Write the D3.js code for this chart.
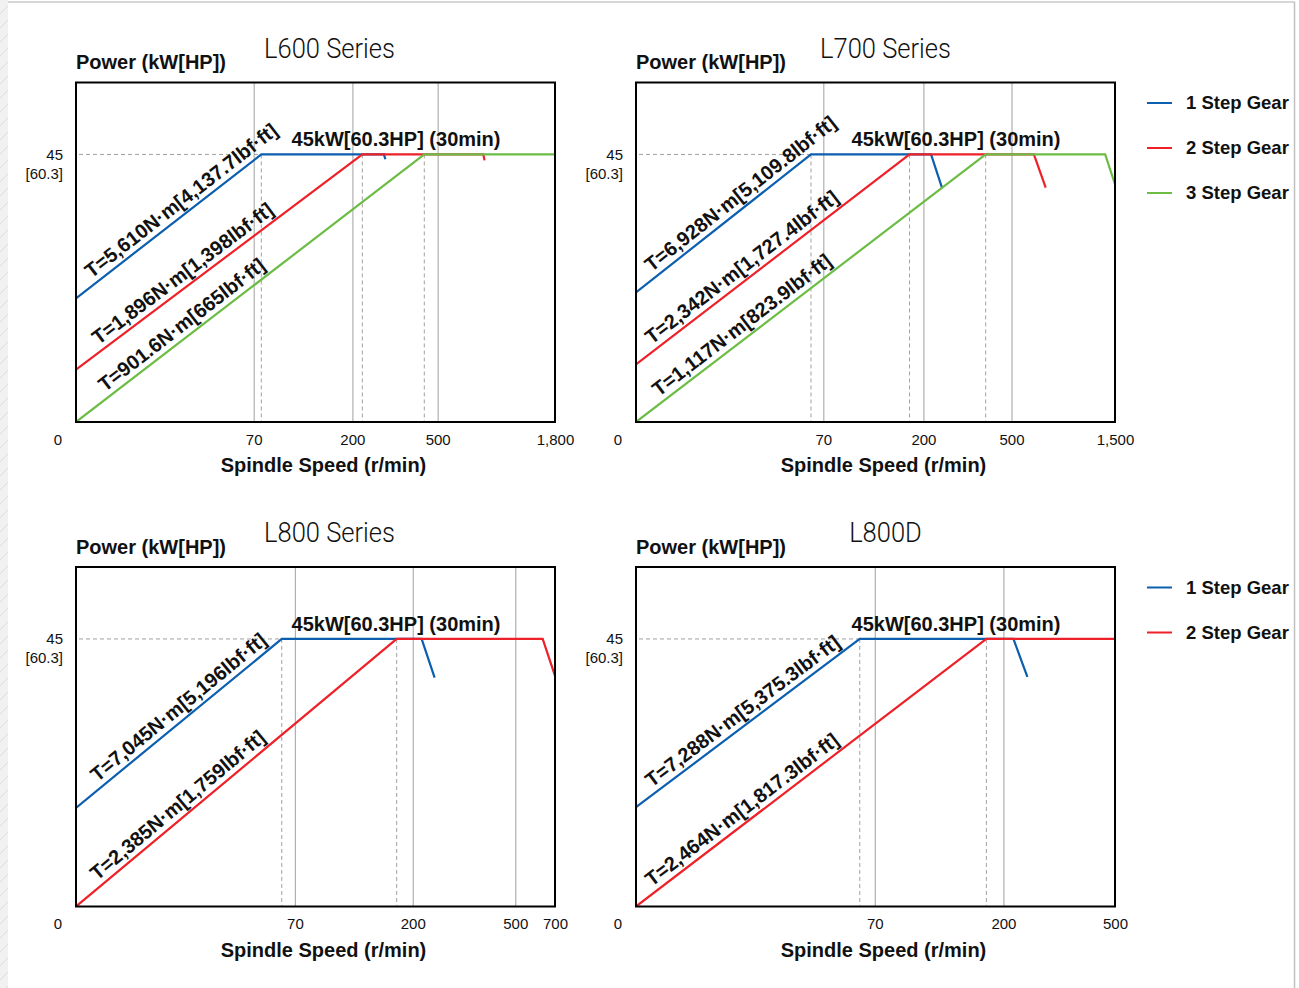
<!DOCTYPE html>
<html>
<head>
<meta charset="utf-8">
<script src="https://cdn.jsdelivr.net/npm/d3@7.9.0/dist/d3.min.js"></script>
<style>
  body { margin: 0; background: #fff; }
  svg { display: block; }
  text { font-family: 'Liberation Sans', Arial, sans-serif; fill: #111; }
  .bold { font-weight: bold; }
  .title { font-family: Roboto, 'DejaVu Sans', sans-serif; font-weight: 300; }
</style>
</head>
<body>
<div id="chart"></div>
<script>
// gears shared by every panel
const gearNames = ['1 Step Gear', '2 Step Gear', '3 Step Gear'];
const gearColors = ['#0b5fae', '#ee2128', '#6cbd45'];

// y axis (kW) with the HP value shown under it
const yTicks = [45];
const yTicksHp = ['[60.3]'];
const ratedLabel = '45kW[60.3HP] (30min)';

// L600 Series: [speed r/min, power kW]
const l600Ticks = [0, 70, 200, 500, 1800];
const l600Gear1 = [[0, 20.8], [80, 45], [311, 45], [316, 44.2]];
const l600Gear2 = [[0, 8.8], [235, 45], [1006, 45], [1020, 44]];
const l600Gear3 = [[0, 0], [453, 45], [1800, 45]];
const l600Torque = ['T=5,610N·m[4,137.7lbf·ft]', 'T=1,896N·m[1,398lbf·ft]', 'T=901.6N·m[665lbf·ft]'];

// L700 Series
const l700Ticks = [0, 70, 200, 500, 1500];
const l700Gear1 = [[0, 21.8], [65.4, 45], [226, 45], [264, 39.3]];
const l700Gear2 = [[0, 9.7], [182, 45], [716, 45], [830, 39.4]];
const l700Gear3 = [[0, 0], [412, 45], [1405, 45], [1500, 40]];
const l700Torque = ['T=6,928N·m[5,109.8lbf·ft]', 'T=2,342N·m[1,727.4lbf·ft]', 'T=1,117N·m[823.9lbf·ft]'];

// L800 Series
const l800Ticks = [0, 70, 200, 500, 700];
const l800Gear1 = [[0, 16.6], [65.8, 45], [226, 45], [264, 38.5]];
const l800Gear2 = [[0, 0], [182.3, 45], [638, 45], [700, 38.8]];
const l800Torque = ['T=7,045N·m[5,196lbf·ft]', 'T=2,385N·m[1,759lbf·ft]'];

// L800D
const l800dTicks = [0, 70, 200, 500];
const l800dGear1 = [[0, 16.7], [65.6, 45], [227, 45], [264.5, 38.6]];
const l800dGear2 = [[0, 0], [182.8, 45], [500, 45]];
const l800dTorque = ['T=7,288N·m[5,375.3lbf·ft]', 'T=2,464N·m[1,817.3lbf·ft]'];

// layout
const width = 1299;
const height = 988;
const boxW = 479;
const boxH = 339.5;
const yMax = 57.1;

const panels = [
  { title: 'L600 Series', ox: 76, oy: 82.5, titleX: 253.5, ticks: l600Ticks, stops: [0, 0.371, 0.577, 0.755, 1],
    gears: [l600Gear1, l600Gear2, l600Gear3], torque: l600Torque, legend: false },
  { title: 'L700 Series', ox: 636, oy: 82.5, titleX: 249.5, ticks: l700Ticks, stops: [0, 0.391, 0.600, 0.784, 1],
    gears: [l700Gear1, l700Gear2, l700Gear3], torque: l700Torque, legend: true },
  { title: 'L800 Series', ox: 76, oy: 567, titleX: 253.5, ticks: l800Ticks, stops: [0, 0.457, 0.703, 0.917, 1],
    gears: [l800Gear1, l800Gear2], torque: l800Torque, legend: false },
  { title: 'L800D', ox: 636, oy: 567, titleX: 249.5, ticks: l800dTicks, stops: [0, 0.4985, 0.767, 1],
    gears: [l800dGear1, l800dGear2], torque: l800dTorque, legend: true },
];

const svg = d3
  .select('#chart')
  .append('svg')
  .attr('width', width)
  .attr('height', height);

// page frame: hatched strip on the left, thin border top and right
const pattern = svg.append('defs')
  .append('pattern')
  .attr('id', 'hatch')
  .attr('patternUnits', 'userSpaceOnUse')
  .attr('width', 14)
  .attr('height', 14);
pattern.append('rect').attr('width', 14).attr('height', 14).attr('fill', '#f1f1f1');
pattern.append('path').attr('d', 'M0,14 L14,0').attr('stroke', '#dedede').attr('stroke-width', 1);

svg.append('rect').attr('x', 0).attr('y', 0).attr('width', 8).attr('height', height).attr('fill', 'url(#hatch)');
svg.append('line').attr('x1', 8).attr('x2', 1295).attr('y1', 2).attr('y2', 2).attr('stroke', '#c8c8c8').attr('stroke-width', 1.5);
svg.append('line').attr('x1', 1294.5).attr('x2', 1294.5).attr('y1', 2).attr('y2', height).attr('stroke', '#c0c0c0').attr('stroke-width', 1.5);

let titleSqueeze = null;

function renderPanel(p, idx) {
  const g = svg.append('g').attr('transform', `translate(${p.ox},${p.oy})`);

  // piecewise speed axis, each break gets its own share of the width
  const x = d3.scaleLinear().domain(p.ticks).range(p.stops.map((s) => s * boxW));
  const y = d3.scaleLinear().domain([0, yMax]).range([boxH, 0]);

  // vertical gridlines at inner ticks
  g.append('g')
    .attr('transform', `translate(0,${boxH})`)
    .call(d3.axisBottom(x).tickValues(p.ticks.slice(1, -1)).tickSize(-boxH).tickFormat(''))
    .call((s) => s.select('.domain').remove())
    .selectAll('line')
    .attr('stroke', '#b0b0b0')
    .attr('stroke-width', 1.2);

  // dashed guides at rated power and at each gear's base speed
  const corners = p.gears.map((d) => d[1]);
  g.append('line')
    .attr('x1', 3)
    .attr('x2', x(corners[0][0]))
    .attr('y1', y(yTicks[0]))
    .attr('y2', y(yTicks[0]))
    .attr('stroke', '#a0a0a0')
    .attr('stroke-dasharray', '4,3');

  g.selectAll('line.guide')
    .data(corners)
    .join('line')
    .attr('class', 'guide')
    .attr('x1', (d) => x(d[0]))
    .attr('x2', (d) => x(d[0]))
    .attr('y1', (d) => y(d[1]))
    .attr('y2', boxH)
    .attr('stroke', '#a0a0a0')
    .attr('stroke-dasharray', '4,3');

  // clip gear lines to the box
  svg.select('defs')
    .append('clipPath')
    .attr('id', `clip${idx}`)
    .append('rect')
    .attr('width', boxW)
    .attr('height', boxH);

  const line = d3.line().x((d) => x(d[0])).y((d) => y(d[1]));

  g.append('g')
    .attr('clip-path', `url(#clip${idx})`)
    .selectAll('path')
    .data(p.gears)
    .join('path')
    .attr('d', line)
    .attr('fill', 'none')
    .attr('stroke', (d, i) => gearColors[i])
    .attr('stroke-width', 2.2);

  // torque labels sit along the rising part of each gear line
  p.gears.forEach((gear, i) => {
    const x0 = x(gear[0][0]), y0 = y(gear[0][1]);
    const x1 = x(gear[1][0]), y1 = y(gear[1][1]);
    const len = Math.hypot(x1 - x0, y1 - y0);
    const along = 143;
    const cx = x0 + (x1 - x0) / len * along;
    const cy = y0 + (y1 - y0) / len * along;
    const ang = Math.atan2(y1 - y0, x1 - x0) * 180 / Math.PI;
    g.append('text')
      .attr('class', 'bold')
      .attr('transform', `translate(${cx},${cy}) rotate(${ang})`)
      .attr('text-anchor', 'middle')
      .attr('dy', -6)
      .style('font-size', '20px')
      .text(p.torque[i]);
  });

  // rated power label
  g.append('text')
    .attr('class', 'bold')
    .attr('x', 320)
    .attr('y', y(yTicks[0]) - 8)
    .attr('text-anchor', 'middle')
    .style('font-size', '20px')
    .text(ratedLabel);

  // frame
  g.append('rect')
    .attr('width', boxW)
    .attr('height', boxH)
    .attr('fill', 'none')
    .attr('stroke', '#000')
    .attr('stroke-width', 2);

  // x tick labels (0 is drawn apart, left of the corner)
  g.append('g')
    .attr('transform', `translate(0,${boxH})`)
    .call(d3.axisBottom(x).tickValues(p.ticks.slice(1)).tickSize(0).tickPadding(12).tickFormat(d3.format(',')))
    .call((s) => s.select('.domain').remove())
    .selectAll('text')
    .style('font-size', '15px');

  g.append('text')
    .attr('x', -18)
    .attr('y', boxH + 22.5)
    .attr('text-anchor', 'middle')
    .style('font-size', '15px')
    .text(d3.format(',')(p.ticks[0]));

  // y tick labels
  const yAxis = g.append('g')
    .call(d3.axisLeft(y).tickValues(yTicks).tickSize(0).tickPadding(13))
    .call((s) => s.select('.domain').remove());
  yAxis.selectAll('text').style('font-size', '15px');
  yAxis.selectAll('.tick')
    .append('text')
    .attr('x', -13)
    .attr('y', 19)
    .attr('dy', '0.32em')
    .attr('text-anchor', 'end')
    .style('font-size', '15px')
    .text((d, i) => yTicksHp[i]);

  // axis titles
  g.append('text')
    .attr('class', 'bold')
    .attr('x', 0)
    .attr('y', -13.5)
    .style('font-size', '20px')
    .text('Power (kW[HP])');

  g.append('text')
    .attr('class', 'bold')
    .attr('x', boxW / 2 + 8)
    .attr('y', boxH + 50)
    .attr('text-anchor', 'middle')
    .style('font-size', '20px')
    .text('Spindle Speed (r/min)');

  // chart title, squeezed to the narrow face of the original
  const t = g.append('text')
    .attr('class', 'title')
    .attr('x', p.titleX)
    .attr('y', -25)
    .attr('text-anchor', 'middle')
    .style('font-size', '27px')
    .text(p.title);
  const w = t.node().getComputedTextLength();
  if (titleSqueeze === null) titleSqueeze = 131 / w;
  t.attr('textLength', w * titleSqueeze).attr('lengthAdjust', 'spacingAndGlyphs');

  // legend
  if (p.legend) {
    const leg = g.append('g').attr('transform', `translate(${boxW + 32},20.5)`);
    const items = leg.selectAll('g')
      .data(gearNames.slice(0, p.gears.length))
      .join('g')
      .attr('transform', (d, i) => `translate(0,${i * 45})`);
    items.append('line')
      .attr('x1', 0)
      .attr('x2', 25)
      .attr('stroke', (d, i) => gearColors[i])
      .attr('stroke-width', 2);
    items.append('text')
      .attr('class', 'bold')
      .attr('x', 39)
      .attr('dy', '0.35em')
      .style('font-size', '18.5px')
      .text((d) => d);
  }
}

panels.forEach(renderPanel);
</script>
</body>
</html>
